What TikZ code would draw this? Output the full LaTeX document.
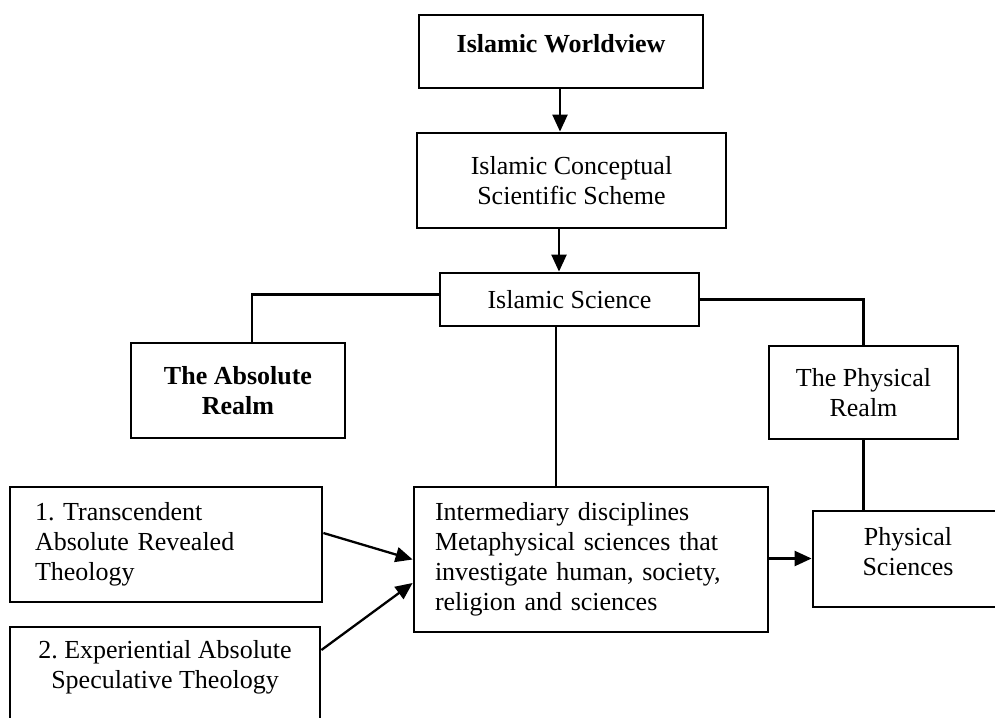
\documentclass[tikz,border=0pt]{standalone}
\usepackage{fontspec}
\setmainfont{Liberation Serif}
\usetikzlibrary{arrows.meta}
\frenchspacing
\tikzset{
  box/.style={draw, line width=2.8pt, inner sep=0pt, minimum width=#1},
  txt/.style={font=\fontsize{26}{30}\selectfont, align=center, inner sep=0pt},
  conn/.style={line width=2.3pt},
  arr/.style={conn, -{Triangle[length=17pt,width=15pt]}}
}
\begin{document}
\begin{tikzpicture}[x=1pt,y=-1pt]
\clip (0,0) rectangle (995,717);
\fill[white] (0,0) rectangle (995,717);
% boxes
\node[box=284pt, minimum height=73pt] (wv) at (561,51.5) {};
\node[txt, font=\fontsize{26}{30}\selectfont\bfseries] (wvt) at (561,44) {Islamic Worldview};
\node[box=309pt, minimum height=95pt, txt] (cs) at (571.5,180.5) {Islamic Conceptual\\Scientific Scheme};
\node[box=259pt, minimum height=53pt, txt] (is) at (569.5,299.5) {Islamic Science};
\node[box=214pt, minimum height=95pt, txt, font=\fontsize{26}{30}\selectfont\bfseries] (ar) at (238,390.5) {The Absolute\\Realm};
\node[box=189pt, minimum height=93pt, txt] (pr) at (863.5,392.5) {The Physical\\Realm};
\node[box=312pt, minimum height=115pt, txt, align=left, text width=262pt] (t1) at (166,544.5) {1. Transcendent\\Absolute Revealed\\Theology};
\node[box=310pt, minimum height=113pt] (t2) at (165,683.5) {};
\node[txt] (t2t) at (165,667) {2. Experiential Absolute\\Speculative Theology};
\node[box=354pt, minimum height=145pt, txt, align=left, text width=312pt] (im) at (591,559.5) {Intermediary disciplines\\Metaphysical sciences that\\investigate human, society,\\religion and sciences};
\node[box=190pt, minimum height=96pt] (ps) at (908,559) {};
\node[txt] (pst) at (908,552) {Physical\\Sciences};
% connectors
\draw[arr] ([xshift=-1pt]wv.south) -- ([xshift=-1pt]wv.south |- cs.north);
\draw[arr] ([xshift=-12.5pt]cs.south) -- ([xshift=-12.5pt]cs.south |- is.north);
\draw[conn] ([yshift=5pt]is.west) -| ([xshift=14pt]ar.north);
\draw[conn] (is.east) -| (pr.north);
\draw[conn] ([xshift=-35pt]im.north) -- ([xshift=-35pt]im.north |- is.south);
\draw[conn] (pr.south) -- (pr.south |- ps.north);
\draw[arr] ([yshift=11.5pt]t1.east) -- (im.west);
\draw[arr] ([yshift=33.5pt]t2.east) -- ([yshift=-23.5pt]im.west);
\draw[arr] ([yshift=1pt]im.east) -- ([yshift=1pt]im.east -| ps.west);
\end{tikzpicture}
\end{document}
